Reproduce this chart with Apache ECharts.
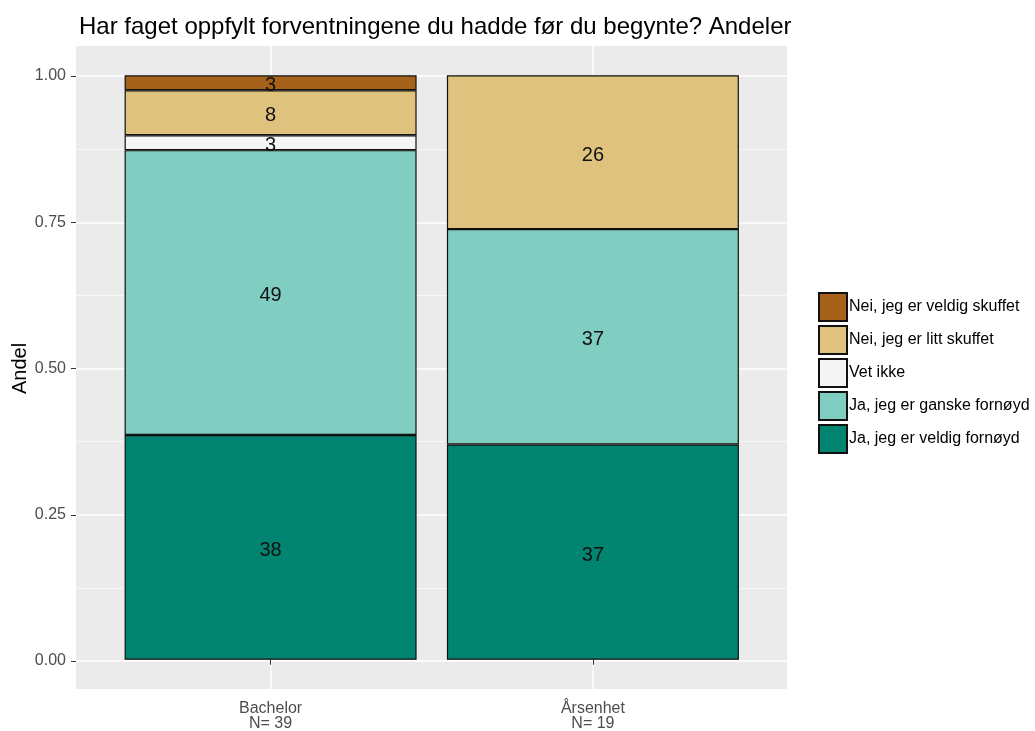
<!DOCTYPE html>
<html>
<head>
<meta charset="utf-8">
<script src="https://cdn.jsdelivr.net/npm/echarts@6/dist/echarts.min.js"></script>
<style>
  html, body { margin: 0; padding: 0; background: #fff; }
  #chart { width: 1035px; height: 731px; }
</style>
</head>
<body>
<div id="chart"></div>
<script>
// data (shares of each group)
var categories = ['Bachelor\nN= 39', 'Årsenhet\nN= 19'];
var answers = ['Ja, jeg er veldig fornøyd', 'Ja, jeg er ganske fornøyd', 'Vet ikke', 'Nei, jeg er litt skuffet', 'Nei, jeg er veldig skuffet'];
var colors = ['#018571', '#80CDC1', '#F5F5F5', '#DFC27D', '#A6611A'];
var bachelor = [0.3846, 0.4872, 0.0256, 0.0769, 0.0256];
var aarsenhet = [0.3684, 0.3684, 0, 0.2632, 0];
var yTicks = [0, 0.25, 0.5, 0.75, 1];

var font = 'Liberation Sans, Arial, sans-serif';
var myChart = echarts.init(document.getElementById('chart'));

var series = answers.map(function (name, i) {
    return {
        name: name,
        type: 'bar',
        stack: 'andel',
        xAxisIndex: 2,
        yAxisIndex: 2,
        barWidth: 292,
        itemStyle: { color: colors[i], borderColor: '#111', borderWidth: 1.2 },
        label: {
            show: true,
            position: 'inside',
            offset: [0, 3],
            color: '#111',
            fontSize: 20,
            fontFamily: font,
            formatter: function (p) { return p.value ? Math.round(p.value * 100) : ''; }
        },
        data: [bachelor[i] || null, aarsenhet[i] || null]
    };
});

option = {
    animation: false,
    title: {
        text: 'Har faget oppfylt forventningene du hadde før du begynte? Andeler',
        left: 74,
        top: 10,
        textStyle: { fontSize: 24, fontWeight: 'normal', color: '#000', fontFamily: font }
    },
    legend: {
        orient: 'vertical',
        left: 818,
        top: 292,
        padding: 0,
        itemWidth: 28,
        itemHeight: 28,
        itemGap: 3,
        icon: 'rect',
        data: answers.slice().reverse(),
        textStyle: { fontSize: 16, color: '#000', fontFamily: font, padding: [0, 0, 0, -3] }
    },
    grid: [
        // panel background
        { left: 76, right: 248, top: 46, bottom: 42, outerBoundsMode: 'none', show: true, backgroundColor: '#EBEBEB', borderWidth: 0 },
        // y scale 0..1
        { left: 76, right: 248, top: 76, bottom: 70, outerBoundsMode: 'none' },
        // bars, categories at band centres
        { left: 270.6, right: 442.1, top: 46, bottom: 42, outerBoundsMode: 'none' }
    ],
    xAxis: [
        { gridIndex: 0, type: 'value', show: false },
        { gridIndex: 1, type: 'value', show: false },
        {
            gridIndex: 2,
            type: 'category',
            boundaryGap: false,
            data: categories,
            axisLine: { show: false },
            axisTick: { show: true, inside: false, length: 5, lineStyle: { color: '#333' } },
            axisLabel: { color: '#4D4D4D', fontSize: 16, fontFamily: font, margin: 12, lineHeight: 15 },
            splitLine: { show: true, lineStyle: { color: '#fff', width: 1.5 } }
        }
    ],
    yAxis: [
        { gridIndex: 0, type: 'value', show: false },
        {
            gridIndex: 1,
            type: 'value',
            position: 'left',
            min: yTicks[0],
            max: yTicks[yTicks.length - 1],
            interval: 0.25,
            name: 'Andel',
            nameLocation: 'middle',
            nameRotate: 90,
            nameGap: 46,
            nameMoveOverlap: false,
            nameTextStyle: { fontSize: 20, color: '#000', fontFamily: font },
            axisLine: { show: false },
            axisTick: { show: true, inside: false, length: 5, lineStyle: { color: '#333' } },
            axisLabel: { color: '#4D4D4D', fontSize: 16, fontFamily: font, margin: 10,
                formatter: function (v) { return v.toFixed(2); } },
            splitLine: { show: true, lineStyle: { color: '#fff', width: 1.5 } },
            minorTick: { show: false, splitNumber: 2 },
            minorSplitLine: { show: true, lineStyle: { color: '#F8F8F8', width: 1 } }
        },
        { gridIndex: 2, type: 'value', min: -0.05, max: 1.05, show: false }
    ],
    series: series
};

myChart.setOption(option);
</script>
</body>
</html>
